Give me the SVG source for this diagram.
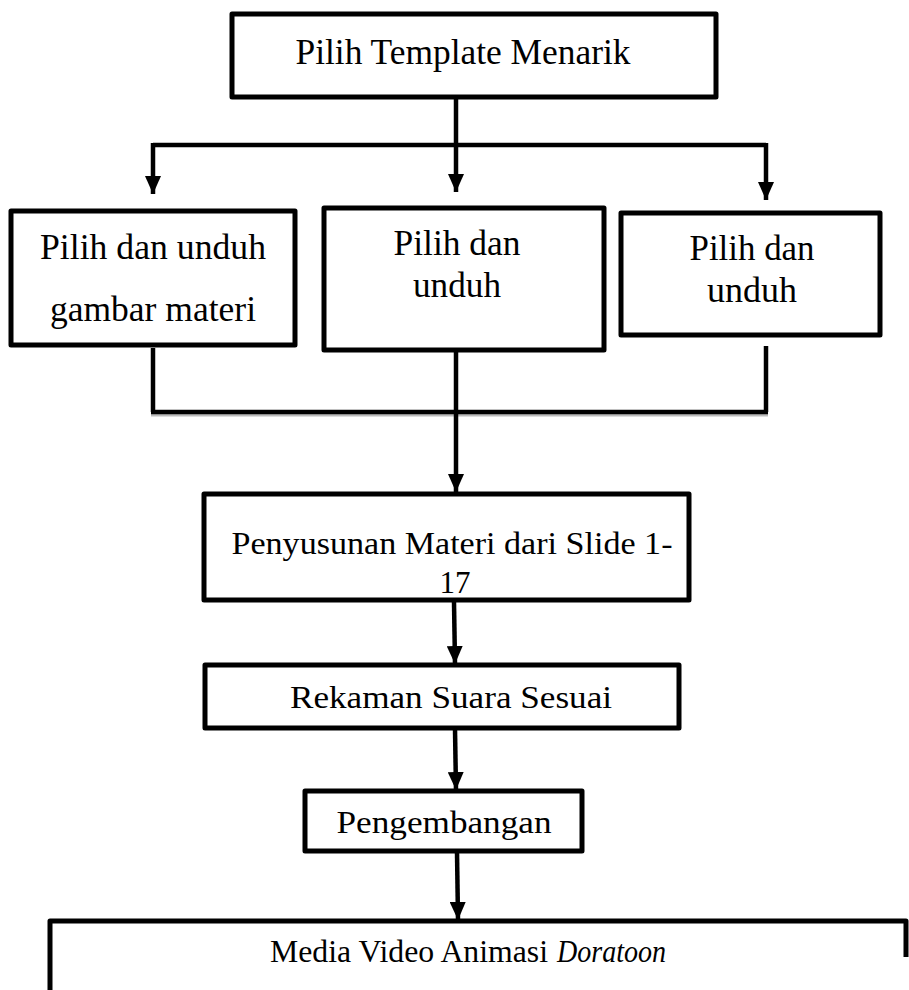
<svg xmlns="http://www.w3.org/2000/svg" width="909" height="990" viewBox="0 0 909 990">
<style>
.box{fill:#fff;stroke:#000;stroke-width:5;stroke-linejoin:round}
.t{font-family:"Liberation Serif","Times New Roman",serif;font-size:36px;fill:#000;text-anchor:middle}
.m{font-size:31px}
.s{text-anchor:start}
.c{fill:none;stroke:#000;stroke-width:4.5}
</style>
<defs>
<marker id="a" markerUnits="userSpaceOnUse" markerWidth="18" markerHeight="16" refX="18" refY="8" orient="auto" viewBox="0 0 18 16">
<path d="M0,0 L18,8 L0,16 Z" fill="#000"/>
</marker>
</defs>
<g id="connectors">
<path class="c" d="M456,99 L456,192" marker-end="url(#a)"/>
<path class="c" d="M153,145 L766,145"/>
<path class="c" d="M153,143 L153,194" marker-end="url(#a)"/>
<path class="c" d="M766,143 L766,200" marker-end="url(#a)"/>
<path class="c" d="M153,348 L153,412"/>
<path class="c" d="M766,346 L766,412"/>
<path d="M151,415 L768,415" stroke="#bbb" stroke-width="3" fill="none"/>
<path class="c" d="M151,412 L768,412"/>
<path class="c" d="M456,352 L456,492" marker-end="url(#a)"/>
<path class="c" d="M454,602 L455,664" marker-end="url(#a)"/>
<path class="c" d="M455,729 L456,790" marker-end="url(#a)"/>
<path class="c" d="M457,852 L458,920" marker-end="url(#a)"/>
</g>
<g id="n1">
<rect class="box" x="232" y="14" width="484" height="83"/>
<text class="t" x="463" y="64" textLength="335" lengthAdjust="spacingAndGlyphs">Pilih Template Menarik</text>
</g>
<g id="n2">
<rect class="box" x="11" y="211" width="284" height="134"/>
<text class="t" x="153" y="259" textLength="226" lengthAdjust="spacingAndGlyphs">Pilih dan unduh</text>
<text class="t" x="153" y="321" textLength="206" lengthAdjust="spacingAndGlyphs">gambar materi</text>
</g>
<g id="n3">
<rect class="box" x="324" y="208" width="280" height="142"/>
<text class="t" x="457" y="255" textLength="127" lengthAdjust="spacingAndGlyphs">Pilih dan</text>
<text class="t" x="457" y="297" textLength="88" lengthAdjust="spacingAndGlyphs">unduh</text>
</g>
<g id="n4">
<rect class="box" x="621" y="213" width="259" height="122"/>
<text class="t" x="752" y="260" textLength="125" lengthAdjust="spacingAndGlyphs">Pilih dan</text>
<text class="t" x="752" y="302" textLength="90" lengthAdjust="spacingAndGlyphs">unduh</text>
</g>
<g id="n5">
<rect class="box" x="204" y="494" width="485" height="106"/>
<text class="t m" x="452" y="554" textLength="441" lengthAdjust="spacingAndGlyphs">Penyusunan Materi dari Slide 1-</text>
<text class="t m" x="455" y="593">17</text>
</g>
<g id="n6">
<rect class="box" x="205" y="665" width="474" height="63"/>
<text class="t m" x="451" y="708" textLength="322" lengthAdjust="spacingAndGlyphs">Rekaman Suara Sesuai</text>
</g>
<g id="n7">
<rect class="box" x="305" y="791" width="277" height="60"/>
<text class="t m" x="444" y="833" textLength="215" lengthAdjust="spacingAndGlyphs">Pengembangan</text>
</g>
<g id="n8">
<path class="box" d="M50,992 L50,921 L906,921 L906,957"/>
<text class="t m s" x="270" y="962" textLength="278" lengthAdjust="spacingAndGlyphs">Media Video Animasi</text>
<text class="t m s" x="557" y="962" textLength="109" lengthAdjust="spacingAndGlyphs" font-style="italic">Doratoon</text>
</g>
</svg>
